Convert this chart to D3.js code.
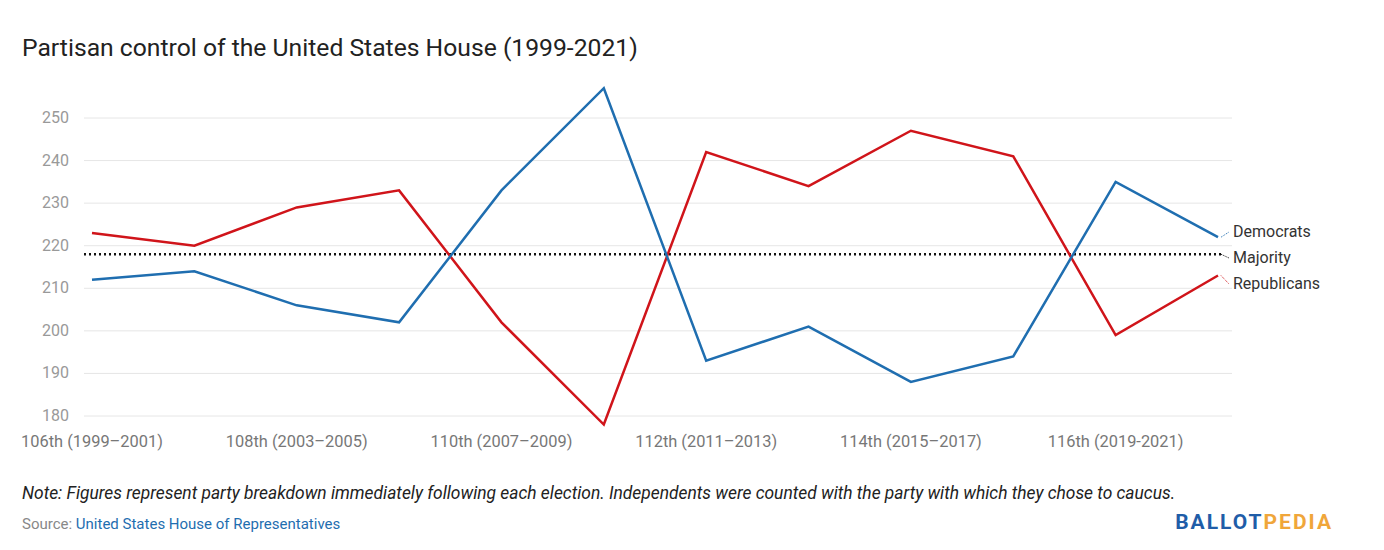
<!DOCTYPE html>
<html><head><meta charset="utf-8">
<script src="https://cdn.jsdelivr.net/npm/d3@7"></script>
<style>body{margin:0;background:#fff;font-family:Roboto,sans-serif}</style>
</head><body><svg id="c" width="1384" height="550"></svg>
<script>
const congresses = ["106th (1999–2001)","107th","108th (2003–2005)","109th","110th (2007–2009)","111th","112th (2011–2013)","113th","114th (2015–2017)","115th","116th (2019-2021)","117th"];
const democrats = [212,214,206,202,233,257,193,201,188,194,235,222];
const republicans = [223,220,229,233,202,178,242,234,247,241,199,213];
const majority = 218;
const yTicks = [180,190,200,210,220,230,240,250];

const svg = d3.select("#c");
const x = d3.scalePoint().domain(congresses).range([92,1218]);
const y = d3.scaleLinear().domain([180,250]).range([416,118]);

svg.append("text").attr("x",22).attr("y",56).attr("font-size",24.7).attr("fill","#222")
  .text("Partisan control of the United States House (1999-2021)");

const g = svg.append("g");
yTicks.forEach(t=>{
  g.append("line").attr("x1",84).attr("x2",1232).attr("y1",y(t)).attr("y2",y(t)).attr("stroke","#e6e6e6");
  g.append("text").attr("x",69).attr("y",y(t)+5).attr("text-anchor","end").attr("font-size",16).attr("fill","#999").text(t);
});
congresses.forEach((c,i)=>{
  if(i%2===0) g.append("text").attr("x",x(c)).attr("y",447).attr("text-anchor","middle").attr("font-size",16.4).attr("fill","#777").text(c);
});

g.append("line").attr("x1",84).attr("x2",1222).attr("y1",y(majority)).attr("y2",y(majority))
  .attr("stroke","#111").attr("stroke-width",2.5).attr("stroke-dasharray","2,3");

const line = d3.line().x((d,i)=>x(congresses[i])).y(d=>y(d));
g.append("path").datum(republicans).attr("d",line).attr("fill","none").attr("stroke","#d0141a").attr("stroke-width",2.5);
g.append("path").datum(democrats).attr("d",line).attr("fill","none").attr("stroke","#1f6eb0").attr("stroke-width",2.5);

const last = congresses.length-1;
const labels = [["Democrats",democrats[last],232,"#1f6eb0"],["Majority",majority,258,"#111"],["Republicans",republicans[last],284,"#d0141a"]];
labels.forEach(([t,v,ly,col])=>{
  g.append("line").attr("x1",x(congresses[last])+3).attr("y1",y(v)).attr("x2",1229).attr("y2",ly).attr("stroke",col).attr("stroke-dasharray","1,1");
  g.append("text").attr("x",1233).attr("y",ly+5).attr("font-size",16).attr("fill","#333").text(t);
});

svg.append("text").attr("x",22).attr("y",499).attr("font-size",17.4).attr("font-style","italic").attr("fill","#222")
  .text("Note: Figures represent party breakdown immediately following each election. Independents were counted with the party with which they chose to caucus.");
const s = svg.append("text").attr("x",22).attr("y",529).attr("font-size",15).attr("fill","#888");
s.append("tspan").text("Source: ");
s.append("tspan").attr("fill","#1f6eb0").text("United States House of Representatives");
const b = svg.append("text").attr("x",1333).attr("y",529).attr("text-anchor","end").attr("font-size",21).attr("font-weight","bold").attr("letter-spacing",2);
b.append("tspan").attr("fill","#1f5da8").text("BALLOT");
b.append("tspan").attr("fill","#f0a63a").text("PEDIA");
</script></body></html>
